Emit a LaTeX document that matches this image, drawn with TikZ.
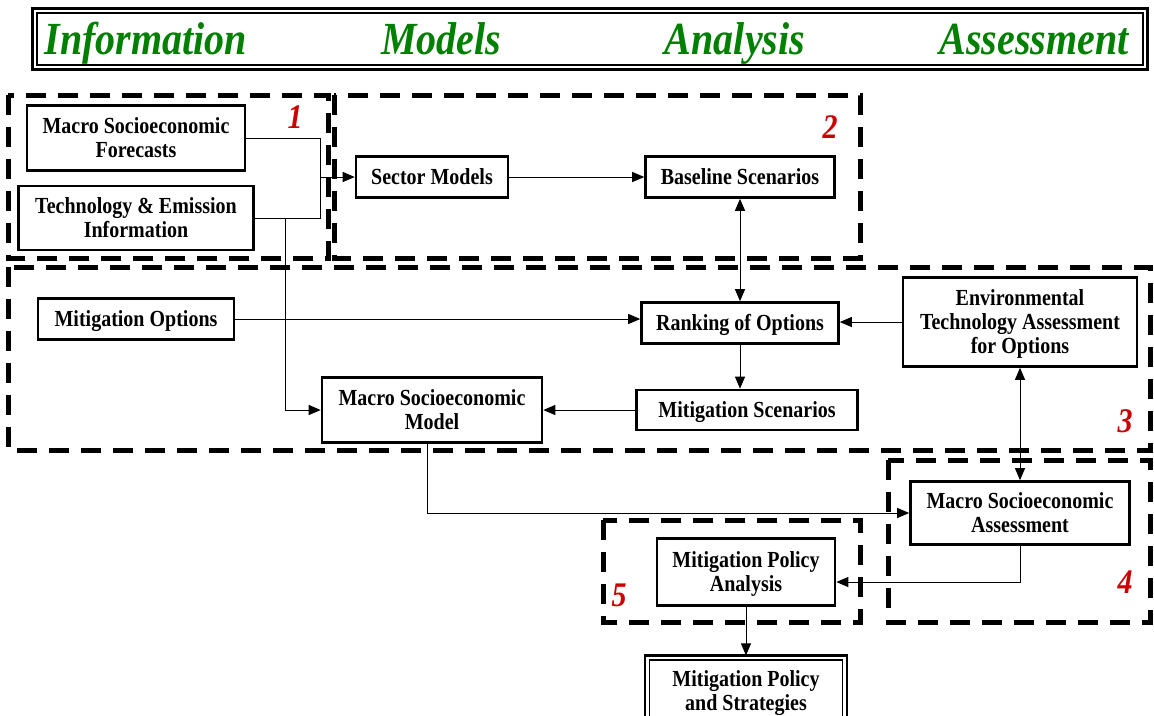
\documentclass[tikz,border=0pt]{standalone}
\usepackage{fontspec}
\setmainfont{Liberation Serif}
\usepackage{graphicx}
\usetikzlibrary{arrows.meta,calc}

% slightly tall lettering, one or more centred lines, set a little low in its box
\newcommand\tallcell[1]{\raisebox{-3pt}[\height][\depth]{\scalebox{1}[1.15]{\begin{tabular}{@{}c@{}}#1\end{tabular}}}}

\definecolor{headgreen}{RGB}{0,128,0}
\definecolor{numred}{RGB}{204,0,0}

\tikzset{
  box/.style={draw, line width=2.6pt, fill=white, inner sep=0pt,
    font=\fontsize{20}{21}\selectfont\bfseries},
  heading/.style={text=headgreen, inner sep=0pt,
    font=\fontsize{40}{44}\selectfont\bfseries\itshape},
  tag/.style={text=numred, inner sep=0pt,
    font=\fontsize{30}{32}\selectfont\bfseries\itshape},
  region/.style={line width=5pt, dash pattern=on 20pt off 12pt},
  link/.style={line width=1pt},
  arrow/.style={link, -{Triangle[length=12pt,width=10pt]}},
  twoway/.style={link, {Triangle[length=12pt,width=10pt]}-{Triangle[length=12pt,width=10pt]}},
}

\begin{document}
\begin{tikzpicture}[x=1pt, y=-1pt]
\clip (0,0) rectangle (1154,715);
\fill[white] (0,0) rectangle (1154,715);

% heading bar with double frame
\node[draw, line width=1.2pt, minimum width=1106, minimum height=52, inner sep=0pt] (frame) at (590,39) {};
\draw[line width=2.6pt] ([shift={(-4pt,-4pt)}]frame.south west) rectangle ([shift={(4pt,4pt)}]frame.north east);
\node[heading] (h1) at (146,41) {\tallcell{Information}};
\node[heading] (h2) at (441,41) {\tallcell{Models}};
\node[heading] (h3) at (735,41) {\tallcell{Analysis}};
\node[heading] (h4) at (1034,41) {\tallcell{Assessment}};

% dashed groups
\draw[region] (8,95) rectangle (328,258);
\draw[region] (334,95) rectangle (860,258);
\draw[region] (8,267) rectangle (1150,450);
\draw[region] (888,460) rectangle (1150,622);
\draw[region] (603,520) rectangle (860,622);

\node[tag] (n1) at (295,118) {\tallcell{1}};
\node[tag] (n2) at (830,128) {\tallcell{2}};
\node[tag] (n3) at (1125,422) {\tallcell{3}};
\node[tag] (n4) at (1125,583) {\tallcell{4}};
\node[tag] (n5) at (619,596) {\tallcell{5}};

% boxes
\node[box, minimum width=218, minimum height=65] (fore) at (136,138) {\tallcell{Macro Socioeconomic\\Forecasts}};
\node[box, minimum width=235, minimum height=64] (tech) at (136,218) {\tallcell{Technology \& Emission\\Information}};
\node[box, minimum width=152, minimum height=41] (sect) at (432,177) {\tallcell{Sector Models}};
\node[box, minimum width=189, minimum height=41] (base) at (740,177) {\tallcell{Baseline Scenarios}};
\node[box, minimum width=196, minimum height=41] (mopt) at (136,319) {\tallcell{Mitigation Options}};
\node[box, minimum width=197, minimum height=41] (rank) at (740,323) {\tallcell{Ranking of Options}};
\node[box, minimum width=234, minimum height=89] (env) at (1020,322) {\tallcell{Environmental\\Technology Assessment\\for Options}};
\node[box, minimum width=221, minimum height=40] (msce) at (747,410) {\tallcell{Mitigation Scenarios}};
\node[box, minimum width=220, minimum height=65] (model) at (432,410) {\tallcell{Macro Socioeconomic\\Model}};
\node[box, minimum width=219, minimum height=63] (asmt) at (1020,513) {\tallcell{Macro Socioeconomic\\Assessment}};
\node[box, minimum width=178, minimum height=67] (pol) at (746,572) {\tallcell{Mitigation Policy\\Analysis}};

% final result with double frame
\node[draw, line width=1.2pt, inner sep=0pt, outer sep=4.6pt, minimum width=193, minimum height=62,
  font=\fontsize{20}{21}\selectfont\bfseries] (strat) at (746,691) {\tallcell{Mitigation Policy\\and Strategies}};
\draw[line width=2.6pt] (strat.south west) rectangle (strat.north east);

% connectors
\coordinate (join) at (320,177);
\coordinate (drop) at (285,218);
\draw[link] (fore.east) -| (join);
\draw[link] (tech.east) -| (join);
\draw[arrow] (join) -- (sect.west);
\draw[arrow] (drop) |- (model.west);
\draw[arrow] (sect.east) -- (base.west);
\draw[twoway] (base.south) -- (rank.north);
\draw[arrow] (mopt.east) -- (mopt.east -| rank.west);
\draw[arrow] (env.west) -- (env.west -| rank.east);
\draw[arrow] (rank.south) -- (rank.south |- msce.north);
\draw[arrow] (msce.west) -- (msce.west -| model.east);
\draw[twoway] (env.south) -- (asmt.north);
\draw[arrow] ([xshift=-5pt]model.south) |- (asmt.west);
\draw[arrow] (asmt.south) |- ([yshift=-10pt]pol.east);
\draw[arrow] (pol.south) -- (pol.south |- strat.north);
\end{tikzpicture}
\end{document}
